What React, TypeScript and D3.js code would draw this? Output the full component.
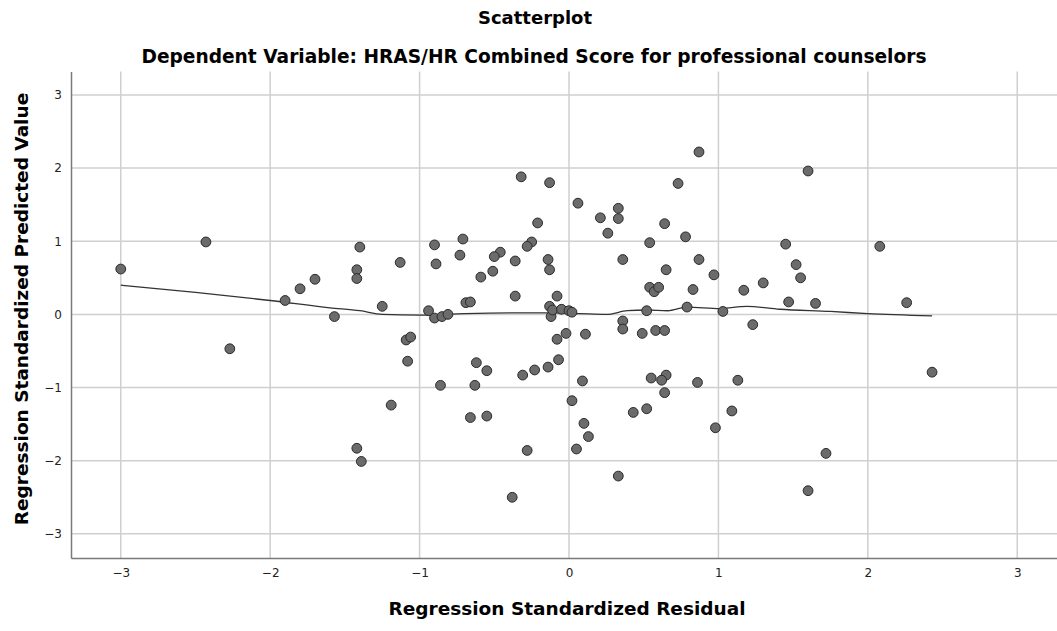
import React, { useRef, useEffect } from 'react';
import * as d3 from 'd3';

// Regression standardized residual (x) vs predicted value (y)
const residuals = [
  -3.0, -2.43, -1.9, -1.8, -1.7, -2.27, -1.57, -1.42, -1.39,
  -0.32, -0.13, 0.06, -0.21, -0.71, -0.9, -1.4, -0.25, -0.28, -0.46, -0.5, -0.73, -0.89, -1.13,
  -1.42, -1.42, -0.36, -0.51, -0.59, -0.14, -0.13, -0.36, -0.08, -0.69, -0.66, -1.25, -0.94,
  -0.9, -0.85, -0.81, -0.13, -0.12, -0.11, -0.05, 0.0, 0.02, -0.02, -0.08,
  -1.09, -1.06, -1.08, -0.86, -1.19, -0.62, -0.55, -0.63, -0.66, -0.55, -0.31, -0.23, -0.14,
  -0.07, -0.28, -0.38, 0.02, 0.05,
  0.87, 1.6, 0.73, 0.21, 0.33, 0.33, 0.26, 0.64, 0.54, 0.78, 0.36, 0.87, 0.65, 0.97, 0.54,
  0.57, 0.6, 0.83, 0.79, 0.52, 1.03, 1.17, 1.3, 1.45, 1.52, 1.55, 1.47, 0.36, 1.23,
  0.11, 0.36, 0.49, 0.58, 0.64, 0.09, 0.55, 0.65, 0.62, 0.86, 1.13, 0.64, 0.52, 0.43, 1.09,
  0.98, 0.1, 0.13, 0.33, 1.6,
  2.08, 1.65, 2.26, 2.43, 1.72,
];
const predicted = [
  0.62, 0.99, 0.19, 0.35, 0.48, -0.47, -0.03, -1.83, -2.01,
  1.88, 1.8, 1.52, 1.25, 1.03, 0.95, 0.92, 0.99, 0.93, 0.85, 0.79, 0.81, 0.69, 0.71,
  0.61, 0.49, 0.73, 0.59, 0.51, 0.75, 0.61, 0.25, 0.25, 0.16, 0.17, 0.11, 0.05,
  -0.05, -0.03, 0.0, 0.11, -0.03, 0.06, 0.07, 0.05, 0.03, -0.26, -0.34,
  -0.35, -0.31, -0.64, -0.97, -1.24, -0.66, -0.77, -0.97, -1.41, -1.39, -0.83, -0.76, -0.72,
  -0.62, -1.86, -2.5, -1.18, -1.84,
  2.22, 1.96, 1.79, 1.32, 1.45, 1.31, 1.11, 1.24, 0.98, 1.06, 0.75, 0.75, 0.61, 0.54, 0.37,
  0.31, 0.37, 0.34, 0.1, 0.05, 0.04, 0.33, 0.43, 0.96, 0.68, 0.5, 0.17, -0.09, -0.14,
  -0.27, -0.2, -0.26, -0.22, -0.22, -0.91, -0.87, -0.83, -0.9, -0.93, -0.9, -1.07, -1.29, -1.34, -1.32,
  -1.55, -1.49, -1.67, -2.21, -2.41,
  0.93, 0.15, 0.16, -0.79, -1.9,
];

// Loess fit line
const fitX = [-3.0, -2.5, -2.0, -1.6, -1.4, -1.25, -1.0, -0.7, -0.37, -0.15, 0.07, 0.25, 0.39, 0.52, 0.66, 0.79, 1.01, 1.19, 1.41, 1.75, 2.0, 2.43];
const fitY = [0.4, 0.3, 0.19, 0.09, 0.05, 0.0, -0.01, 0.01, 0.02, 0.02, 0.01, 0.0, 0.05, 0.06, 0.05, 0.1, 0.08, 0.11, 0.07, 0.04, 0.01, -0.02];

const ticks = [-3, -2, -1, 0, 1, 2, 3];

const WIDTH = 1057;
const HEIGHT = 631;
const FONT = '"DejaVu Sans", sans-serif';

export default function App() {
  const svgRef = useRef<SVGSVGElement>(null);

  useEffect(() => {
    document.body.style.margin = '0';
    if (!svgRef.current) return;

    const left = 71, right = 1067, top = 71.5, bottom = 558;

    const x = d3.scaleLinear().domain([-3.333, 3.333]).range([left, right]);
    const y = d3.scaleLinear().domain([-3.33, 3.32]).range([bottom, top]);

    const svg = d3.select(svgRef.current);
    svg.selectAll('*').remove();

    // grid
    svg.append('g')
      .selectAll('line')
      .data(ticks)
      .join('line')
      .attr('x1', d => x(d)).attr('x2', d => x(d))
      .attr('y1', top).attr('y2', bottom)
      .attr('stroke', '#cfcfcf').attr('stroke-width', 1.5);

    svg.append('g')
      .selectAll('line')
      .data(ticks)
      .join('line')
      .attr('x1', left).attr('x2', WIDTH)
      .attr('y1', d => y(d)).attr('y2', d => y(d))
      .attr('stroke', '#cfcfcf').attr('stroke-width', 1.5);

    // axes
    const xAxis = svg.append('g')
      .attr('transform', `translate(0,${bottom})`)
      .call(d3.axisBottom(x).tickValues(ticks).tickSize(0).tickPadding(10).tickFormat(d3.format('d')));
    xAxis.select('.domain').attr('stroke', '#7a7a7a').attr('stroke-width', 1.5);
    xAxis.selectAll('text').attr('fill', '#222').style('font-size', '12px').style('font-family', FONT);

    const yAxis = svg.append('g')
      .attr('transform', `translate(${left},0)`)
      .call(d3.axisLeft(y).tickValues(ticks).tickSize(0).tickPadding(9).tickFormat(d3.format('d')));
    yAxis.select('.domain').attr('stroke', '#7a7a7a').attr('stroke-width', 1.5);
    yAxis.selectAll('text').attr('fill', '#222').style('font-size', '12px').style('font-family', FONT);

    // fit line
    const line = d3.line<number>()
      .x(d => x(fitX[d]))
      .y(d => y(fitY[d]))
      .curve(d3.curveMonotoneX);
    svg.append('path')
      .attr('d', line(d3.range(fitX.length)))
      .attr('fill', 'none')
      .attr('stroke', '#333')
      .attr('stroke-width', 1.3);

    // points
    svg.append('g')
      .selectAll('circle')
      .data(d3.range(residuals.length))
      .join('circle')
      .attr('cx', i => x(residuals[i]))
      .attr('cy', i => y(predicted[i]))
      .attr('r', 4.9)
      .attr('fill', '#6b6b6b')
      .attr('stroke', '#2a2a2a')
      .attr('stroke-width', 1);

    // titles
    svg.append('text')
      .attr('x', 535).attr('y', 24)
      .attr('text-anchor', 'middle')
      .style('font-family', FONT).style('font-weight', 'bold').style('font-size', '18px')
      .text('Scatterplot');
    svg.append('text')
      .attr('x', 534).attr('y', 63)
      .attr('text-anchor', 'middle')
      .style('font-family', FONT).style('font-weight', 'bold').style('font-size', '18.6px')
      .text('Dependent Variable: HRAS/HR Combined Score for professional counselors');

    svg.append('text')
      .attr('x', 567).attr('y', 615)
      .attr('text-anchor', 'middle')
      .style('font-family', FONT).style('font-weight', 'bold').style('font-size', '18.5px')
      .text('Regression Standardized Residual');

    svg.append('text')
      .attr('transform', `translate(28,309) rotate(-90)`)
      .attr('text-anchor', 'middle')
      .style('font-family', FONT).style('font-weight', 'bold').style('font-size', '18.5px')
      .text('Regression Standardized Predicted Value');
  }, []);

  return <svg ref={svgRef} width={WIDTH} height={HEIGHT} style={{ display: 'block', background: '#fff' }} />;
}
